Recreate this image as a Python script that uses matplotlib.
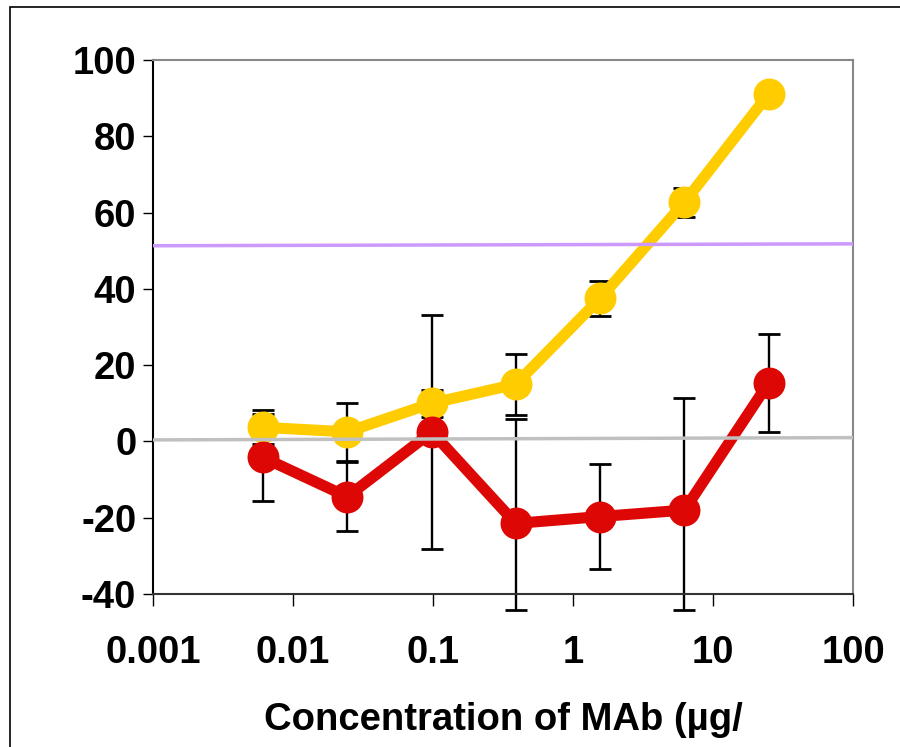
import matplotlib
matplotlib.use('Agg')
import matplotlib.pyplot as plt
from matplotlib.patches import Rectangle
import numpy as np

# Concentrations (4-fold dilution series, ug/ml)
conc = [0.0061, 0.0244, 0.098, 0.39, 1.56, 6.25, 25.0]

# Yellow series and its error bars
yellow = [3.7, 2.5, 10.0, 15.0, 37.5, 62.7, 91.1]
yellow_err = [4.5, 7.5, 3.5, 8.0, 4.5, 3.8, 0.0]

# Red series and its error bars (lower error as seen, cut below the axis)
red = [-4.2, -14.5, 2.5, -21.5, -19.7, -18.0, 15.4]
red_err_up = [11.3, 9.0, 30.6, 27.4, 13.7, 29.4, 12.8]
red_err_down = [11.3, 9.0, 30.6, 22.7, 13.7, 26.2, 12.8]

# Reference lines drawn across the whole range
ref_x = [0.001, 100]
purple_y = [51.3, 51.8]
gray_y = [0.4, 1.0]

plt.rcParams['font.family'] = ['Liberation Sans', 'DejaVu Sans']
plt.rcParams['font.weight'] = 'bold'
plt.rcParams['axes.unicode_minus'] = False

fig = plt.figure(figsize=(9, 7.47), dpi=100)
ax = fig.add_axes([153 / 900, 153 / 747, 700 / 900, 534 / 747])

# Error bars (behind the markers)
ax.errorbar(conc, yellow, yerr=yellow_err, fmt='none', ecolor='black',
            elinewidth=1.7, capsize=8, capthick=2, zorder=2)
ax.errorbar(conc, red, yerr=[red_err_down, red_err_up], fmt='none', ecolor='black',
            elinewidth=1.7, capsize=8, capthick=2, zorder=2, clip_on=False)

# Series
ax.plot(conc, yellow, color='#FFCC00', lw=8, marker='o', ms=23,
        markeredgewidth=0, zorder=3)
ax.plot(conc, red, color='#DD0806', lw=8, marker='o', ms=23,
        markeredgewidth=0, zorder=4)

# Reference lines
ax.plot(ref_x, purple_y, color='#CC99FF', lw=2.5, zorder=5)
ax.plot(ref_x, gray_y, color='#C0C0C0', lw=2.5, zorder=5)

ax.set_xscale('log')
ax.set_xlim(0.001, 100)
ax.set_ylim(-40, 100)
ax.set_xticks([0.001, 0.01, 0.1, 1, 10, 100])
ax.set_xticklabels(['0.001', '0.01', '0.1', '1', '10', '100'])
ax.xaxis.set_minor_locator(matplotlib.ticker.NullLocator())
ax.set_yticks([-40, -20, 0, 20, 40, 60, 80, 100])

ax.tick_params(axis='x', direction='out', length=8.5, width=1, pad=21,
               labelsize=27.5, top=False)
ax.tick_params(axis='y', direction='out', length=7, width=1, pad=5,
               labelsize=27.5, right=False)
for lab in ax.get_xticklabels() + ax.get_yticklabels():
    lab.set_fontweight('bold')

ax.spines['left'].set_color('black')
ax.spines['bottom'].set_color('#333333')
ax.spines['top'].set_color('#888888')
ax.spines['right'].set_color('#888888')
for s in ax.spines.values():
    s.set_linewidth(1.5)

ax.set_xlabel('Concentration of MAb (µg/', fontsize=27.5, fontweight='bold', labelpad=22)

# Chart area border (runs off the right and bottom edges)
fig.add_artist(Rectangle((10 / 900, -0.2), 1.2, (740 / 747) + 0.2,
                         transform=fig.transFigure, fill=False,
                         edgecolor='black', lw=1.2))

fig.savefig('out.png', dpi=100)
